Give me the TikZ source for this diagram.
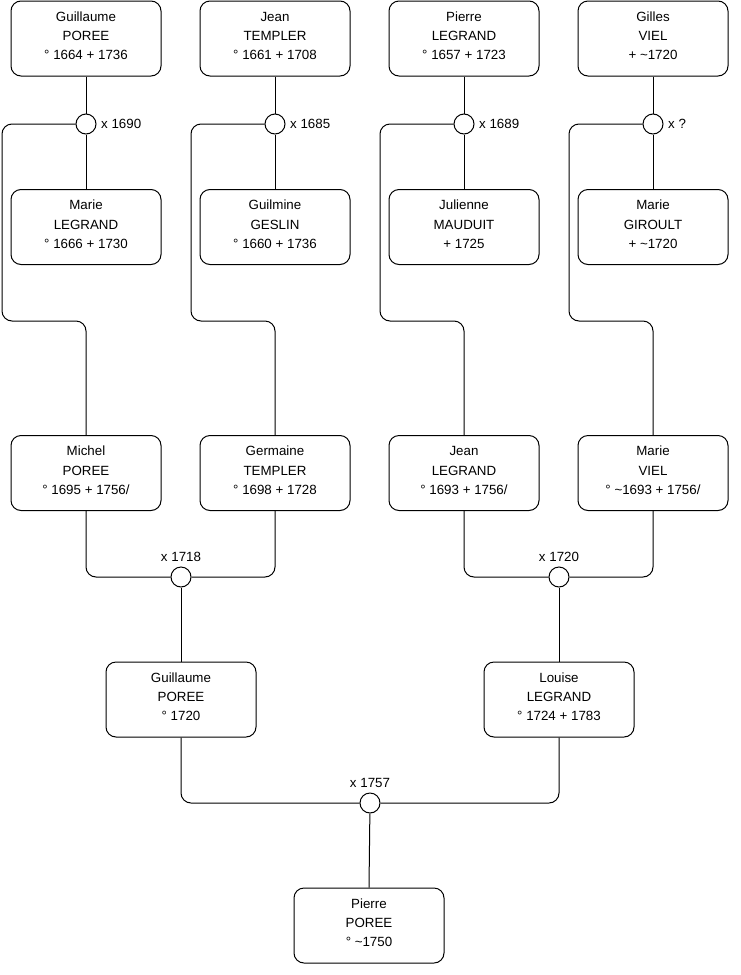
\documentclass[tikz,border=0pt]{standalone}
\usepackage{fontspec}
\setmainfont{Liberation Sans}
\usepackage{tikz}

\begin{document}
\begin{tikzpicture}[x=0.75pt, y=-0.75pt,
            font=\fontsize{10}{14.6}\selectfont,
            personne/.style={draw, line width=0.75pt, rounded corners=7.5pt, fill=white,
                    minimum width=112.5pt, minimum height=56.25pt, align=center,
                    text height=36.5pt, text depth=4.3pt},
            union/.style={draw, circle, line width=0.75pt, fill=white, inner sep=0pt,
                    minimum size=15pt},
            lien/.style={line width=0.75pt, rounded corners=7.5pt}
        ]
        \useasboundingbox (0,0) rectangle (740,975);

        % Generation 1 : arriere-grands-parents
        \node[personne] (gpor) at (86, 38.5)  {Guillaume\\POREE\\° 1664 + 1736};
        \node[personne] (jtem) at (275, 38.5) {Jean\\TEMPLER\\° 1661 + 1708};
        \node[personne] (pleg) at (464, 38.5) {Pierre\\LEGRAND\\° 1657 + 1723};
        \node[personne] (gvie) at (653, 38.5) {Gilles\\VIEL\\+ \textasciitilde 1720};

        \node[union, label=right:x 1690] (u1) at (86, 124)  {};
        \node[union, label=right:x 1685] (u2) at (275, 124) {};
        \node[union, label=right:x 1689] (u3) at (464, 124) {};
        \node[union, label=right:x ?]    (u4) at (653, 124) {};

        \node[personne] (mleg) at (86, 227)  {Marie\\LEGRAND\\° 1666 + 1730};
        \node[personne] (gges) at (275, 227) {Guilmine\\GESLIN\\° 1660 + 1736};
        \node[personne] (jmau) at (464, 227) {Julienne\\MAUDUIT\\+ 1725};
        \node[personne] (mgir) at (653, 227) {Marie\\GIROULT\\+ \textasciitilde 1720};

        % Generation 2 : grands-parents
        \node[personne] (mpor) at (86, 473)  {Michel\\POREE\\° 1695 + 1756/};
        \node[personne] (gtem) at (275, 473) {Germaine\\TEMPLER\\° 1698 + 1728};
        \node[personne] (jleg) at (464, 473) {Jean\\LEGRAND\\° 1693 + 1756/};
        \node[personne] (mvie) at (653, 473) {Marie\\VIEL\\° \textasciitilde 1693 + 1756/};

        \node[union, label=above:x 1718] (u5) at (181, 577) {};
        \node[union, label=above:x 1720] (u6) at (559, 577) {};

        % Generation 3 : parents et enfant
        \node[personne] (gpor2) at (181, 699.5) {Guillaume\\POREE\\° 1720};
        \node[personne] (lleg)  at (559, 699.5) {Louise\\LEGRAND\\° 1724 + 1783};

        \node[union, label=above:x 1757] (u7) at (370, 803) {};

        \node[personne] (ppor) at (369, 925.5) {Pierre\\POREE\\° \textasciitilde 1750};

        % liens
        \draw[lien] (gpor) -- (u1) -- (mleg);
        \draw[lien] (jtem) -- (u2) -- (gges);
        \draw[lien] (pleg) -- (u3) -- (jmau);
        \draw[lien] (gvie) -- (u4) -- (mgir);

        \draw[lien] (u1.west) -| (2, 321) -| (mpor.north);
        \draw[lien] (u2.west) -| (191, 321) -| (gtem.north);
        \draw[lien] (u3.west) -| (380, 321) -| (jleg.north);
        \draw[lien] (u4.west) -| (569, 321) -| (mvie.north);

        \draw[lien] (mpor.south) |- (u5.west);
        \draw[lien] (gtem.south) |- (u5.east);
        \draw[lien] (jleg.south) |- (u6.west);
        \draw[lien] (mvie.south) |- (u6.east);
        \draw[lien] (u5) -- (gpor2);
        \draw[lien] (u6) -- (lleg);

        \draw[lien] (gpor2.south) |- (u7.west);
        \draw[lien] (lleg.south) |- (u7.east);
        \draw[lien] (u7) -- (ppor.north);
    \end{tikzpicture}
\end{document}
